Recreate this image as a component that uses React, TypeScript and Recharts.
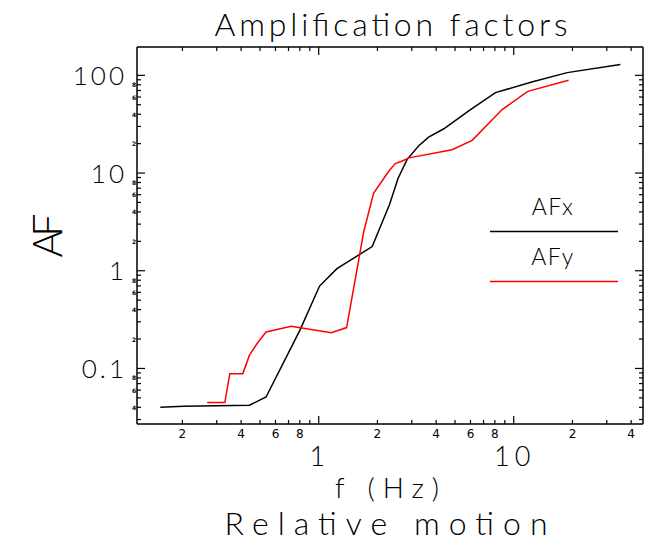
import { LineChart, Line, XAxis, YAxis, Legend } from 'recharts';

// AFx: frequency (Hz) and amplification factor
const fx = [0.154, 0.203, 0.441, 0.537, 0.8, 1.01, 1.24, 1.88, 2.31, 2.55, 2.84, 3.26, 3.66, 4.38, 6.0, 8.06, 12.5, 18.8, 35.2];
const afx = [0.04, 0.041, 0.042, 0.051, 0.245, 0.697, 1.05, 1.77, 4.8, 8.8, 13.8, 19, 23.3, 28.4, 44.6, 66.6, 86, 106.6, 128.8];

// AFy
const fy = [0.268, 0.33, 0.35, 0.408, 0.441, 0.483, 0.537, 0.722, 1.16, 1.39, 1.7, 1.91, 2.31, 2.47, 2.68, 2.9, 4.83, 6.12, 8.72, 11.8, 19.1];
const afy = [0.0447, 0.0447, 0.0885, 0.0885, 0.136, 0.18, 0.236, 0.27, 0.232, 0.262, 2.49, 6.2, 10.75, 12.5, 13.3, 14.3, 17.3, 21.6, 44.6, 68.6, 88.9];

const xTicks = [0.2, 0.3, 0.4, 0.5, 0.6, 0.7, 0.8, 0.9, 1, 2, 3, 4, 5, 6, 7, 8, 9, 10, 20, 30, 40];
const yTicks = [
  0.03, 0.04, 0.05, 0.06, 0.07, 0.08, 0.09, 0.1, 0.2, 0.3, 0.4, 0.5, 0.6, 0.7, 0.8, 0.9,
  1, 2, 3, 4, 5, 6, 7, 8, 9, 10, 20, 30, 40, 50, 60, 70, 80, 90, 100,
];

const X_DOMAIN = [0.117, 46];
const Y_DOMAIN = [0.027, 195];

const seriesX = fx.map((f, i) => ({ f, af: afx[i] }));
const seriesY = fy.map((f, i) => ({ f, af: afy[i] }));

const FONT = "Lato, 'DejaVu Sans', sans-serif";
const LIGHT = 300;

const mantissa = (v: number) => Math.round(v / Math.pow(10, Math.floor(Math.log10(v) + 1e-9)));
const fmt = (v: number) => (v < 1 ? String(v) : String(Math.round(v)));

const MAJOR = 8;
const MINOR = 4;

const BottomTick = ({ x, y, payload }: any) => {
  const v = payload.value;
  const m = mantissa(v);
  const major = m === 1;
  return (
    <g>
      <line x1={x} x2={x} y1={y} y2={y - (major ? MAJOR : MINOR)} stroke="#000" strokeWidth={1.2} />
      {major ? (
        <text x={x + 1} y={y + 42} textAnchor="middle" fontSize={27} fontFamily={FONT} fontWeight={LIGHT} letterSpacing={5} fill="#000">
          {fmt(v)}
        </text>
      ) : m % 2 === 0 ? (
        <text x={x} y={y + 14} textAnchor="middle" fontSize={12} fontFamily="'DejaVu Sans', sans-serif" fill="#000">
          {m}
        </text>
      ) : null}
    </g>
  );
};

const TopTick = ({ x, y, payload }: any) => {
  const major = mantissa(payload.value) === 1;
  return <line x1={x} x2={x} y1={y} y2={y + (major ? MAJOR : MINOR)} stroke="#000" strokeWidth={1.2} />;
};

const LeftTick = ({ x, y, payload }: any) => {
  const v = payload.value;
  const m = mantissa(v);
  const major = m === 1;
  return (
    <g>
      <line x1={x} x2={x + (major ? MAJOR : MINOR)} y1={y} y2={y} stroke="#000" strokeWidth={1.2} />
      {major ? (
        <text x={x - 10} y={y + 9.5} textAnchor="end" fontSize={26} fontFamily={FONT} fontWeight={LIGHT} letterSpacing={3} fill="#000">
          {fmt(v)}
        </text>
      ) : m % 2 === 0 ? (
        <text x={x - 3} y={y + 2.5} textAnchor="middle" fontSize={6} fontWeight="bold" fontFamily="'DejaVu Sans', sans-serif" fill="#000">
          {m}
        </text>
      ) : null}
    </g>
  );
};

const RightTick = ({ x, y, payload }: any) => {
  const major = mantissa(payload.value) === 1;
  return <line x1={x} x2={x - (major ? MAJOR : MINOR)} y1={y} y2={y} stroke="#000" strokeWidth={1.2} />;
};

const LegendBox = ({ payload }: any) => (
  <svg width={132} height={100} style={{ display: 'block' }}>
    {(payload || []).map((p: any, i: number) => (
      <g key={p.value}>
        <text x={64} y={25 + i * 50} textAnchor="middle" fontSize={23} fontFamily={FONT} fontWeight={LIGHT} letterSpacing={1.5} fill="#000">
          {p.value}
        </text>
        <line x1={1} x2={129} y1={41.5 + i * 50} y2={41.5 + i * 50} stroke={p.color} strokeWidth={1.5} />
      </g>
    ))}
  </svg>
);

const axisLine = { stroke: '#000', strokeWidth: 1.5 };

export default function App() {
  return (
    <div style={{ position: 'absolute', left: 0, top: 0, width: 649, height: 544, background: '#fff' }}>
      <LineChart width={649} height={544} margin={{ top: 46, right: 5, bottom: 119, left: 136 }}>
        <XAxis
          xAxisId="bottom"
          dataKey="f"
          type="number"
          scale="log"
          domain={X_DOMAIN}
          allowDataOverflow
          ticks={xTicks}
          interval={0}
          height={1}
          tickSize={0}
          tickMargin={0}
          axisLine={axisLine}
          tickLine={false}
          tick={(p: any) => <BottomTick {...p} />}
          label={{
            content: ({ viewBox }: any) => (
              <text x={viewBox.x + viewBox.width / 2 - 3} y={viewBox.y + 74} textAnchor="middle" fontSize={28} fontFamily={FONT} fontWeight={LIGHT} textLength={104} lengthAdjust="spacing" fill="#000">
                f (Hz)
              </text>
            ),
          }}
        />
        <XAxis
          xAxisId="top"
          orientation="top"
          dataKey="f"
          type="number"
          scale="log"
          domain={X_DOMAIN}
          allowDataOverflow
          ticks={xTicks}
          interval={0}
          height={1}
          tickSize={0}
          tickMargin={0}
          axisLine={axisLine}
          tickLine={false}
          tick={(p: any) => <TopTick {...p} />}
        />
        <YAxis
          yAxisId="left"
          type="number"
          scale="log"
          domain={Y_DOMAIN}
          allowDataOverflow
          ticks={yTicks}
          interval={0}
          width={1}
          tickSize={0}
          tickMargin={0}
          axisLine={axisLine}
          tickLine={false}
          tick={(p: any) => <LeftTick {...p} />}
          label={{
            content: ({ viewBox }: any) => {
              const cx = viewBox.x - 74;
              const cy = viewBox.y + viewBox.height / 2;
              return (
                <text x={cx} y={cy} transform={`rotate(-90 ${cx} ${cy})`} textAnchor="middle" fontSize={41} fontFamily={FONT} fontWeight={LIGHT} textLength={44} lengthAdjust="spacing" fill="#000">
                  AF
                </text>
              );
            },
          }}
        />
        <YAxis
          yAxisId="right"
          orientation="right"
          type="number"
          scale="log"
          domain={Y_DOMAIN}
          allowDataOverflow
          ticks={yTicks}
          interval={0}
          width={1}
          tickSize={0}
          tickMargin={0}
          axisLine={axisLine}
          tickLine={false}
          tick={(p: any) => <RightTick {...p} />}
        />
        <Legend
          layout="vertical"
          verticalAlign="middle"
          align="center"
          wrapperStyle={{ left: 489, top: 190, width: 132 }}
          content={(props: any) => <LegendBox {...props} />}
        />
        <Line
          xAxisId="bottom"
          yAxisId="left"
          data={seriesX}
          dataKey="af"
          name="AFx"
          stroke="#000000"
          strokeWidth={1.5}
          dot={false}
          isAnimationActive={false}
        />
        <Line
          xAxisId="bottom"
          yAxisId="left"
          data={seriesY}
          dataKey="af"
          name="AFy"
          stroke="#ff0000"
          strokeWidth={1.5}
          dot={false}
          isAnimationActive={false}
        />
      </LineChart>
      <svg width={649} height={544} style={{ position: 'absolute', left: 0, top: 0, pointerEvents: 'none' }}>
        <text x={391} y={36} textAnchor="middle" fontSize={32} fontFamily={FONT} fontWeight={LIGHT} textLength={353} lengthAdjust="spacing" fill="#000">
          Amplification factors
        </text>
        <text x={386} y={535} textAnchor="middle" fontSize={32} fontFamily={FONT} fontWeight={LIGHT} textLength={323} lengthAdjust="spacing" fill="#000">
          Relative motion
        </text>
      </svg>
    </div>
  );
}
